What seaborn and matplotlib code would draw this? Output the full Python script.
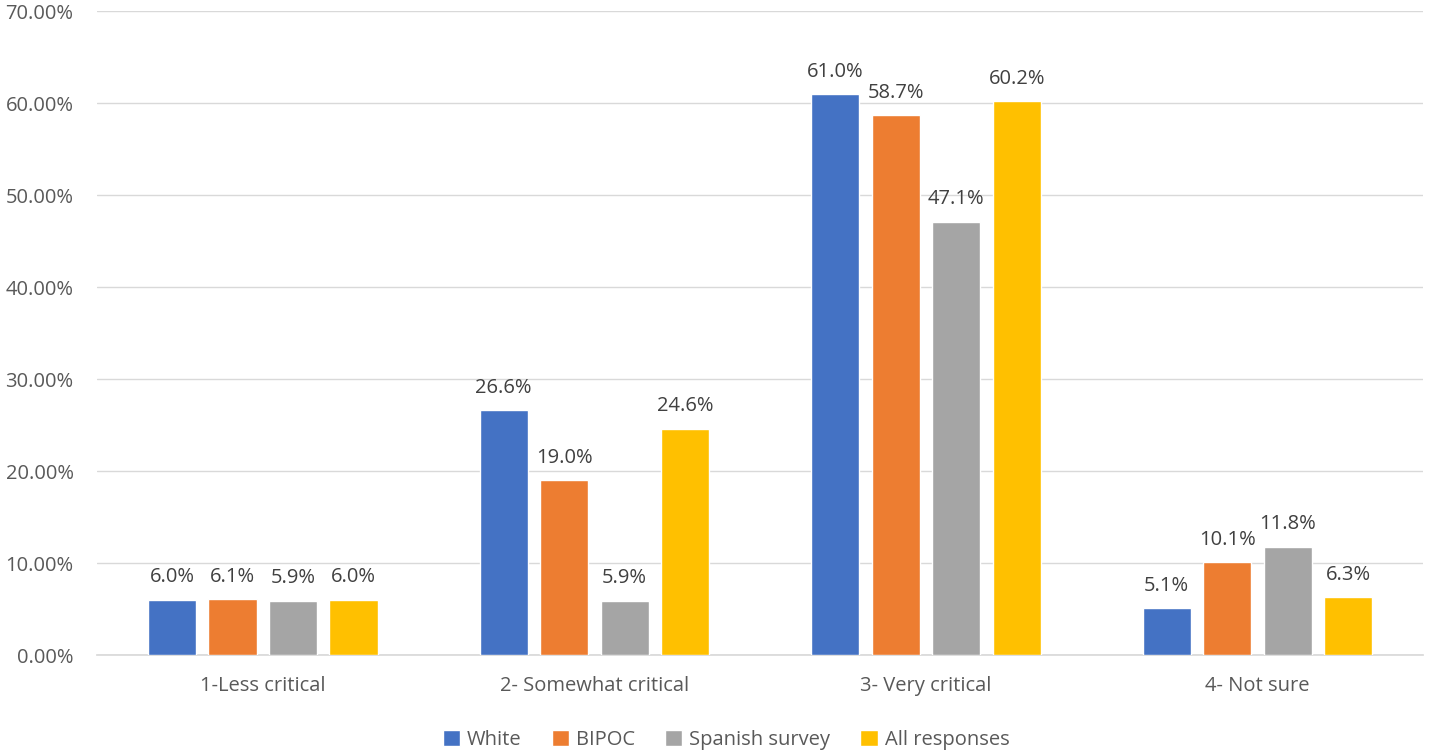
import matplotlib
matplotlib.use("Agg")
import matplotlib.pyplot as plt
import seaborn as sns
import pandas as pd
from matplotlib.ticker import PercentFormatter

categories = ["1-Less critical", "2- Somewhat critical", "3- Very critical", "4- Not sure"]
series = ["White", "BIPOC", "Spanish survey", "All responses"]
white = [6.0, 26.6, 61.0, 5.1]
bipoc = [6.1, 19.0, 58.7, 10.1]
spanish = [5.9, 5.9, 47.1, 11.8]
all_resp = [6.0, 24.6, 60.2, 6.3]
colors = ["#4472C4", "#ED7D31", "#A5A5A5", "#FFC000"]

rows = []
for s, vals in zip(series, [white, bipoc, spanish, all_resp]):
    for c, v in zip(categories, vals):
        rows.append({"cat": c, "series": s, "val": v})
df = pd.DataFrame(rows)

sns.set_theme(style="white")
plt.rcParams['font.family'] = ['Open Sans', 'DejaVu Sans']

fig = plt.figure(figsize=(14.29, 7.53), dpi=100)
ax = fig.add_axes([0.068, 0.130, 0.928, 0.855])
sns.barplot(data=df, x="cat", y="val", hue="series", order=categories,
            hue_order=series, palette=colors, width=0.73, gap=0.2,
            saturation=1, ax=ax, legend=True, zorder=3)

for cont in ax.containers:
    ax.bar_label(cont, labels=[f"{v:.1f}%" for v in cont.datavalues],
                 padding=9, fontsize=14.5, color="#404040")

ax.set_ylim(0, 70)
ax.set_yticks(range(0, 71, 10))
ax.yaxis.set_major_formatter(PercentFormatter(decimals=2))
ax.grid(axis="y", color="#D9D9D9", linewidth=1, zorder=0)
ax.set_axisbelow(True)
for sp in ["top", "right", "left"]:
    ax.spines[sp].set_visible(False)
ax.spines["bottom"].set_color("#D9D9D9")
ax.set_xlabel("")
ax.set_ylabel("")
ax.tick_params(axis="y", labelsize=14.5, colors="#595959", length=0, pad=17)
ax.tick_params(axis="x", labelsize=14.5, colors="#595959", length=0, pad=15)
ax.set_xlim(-0.5, 3.5)

handles, labels = ax.get_legend_handles_labels()
ax.get_legend().remove()
fig.legend(handles, labels, loc="center", bbox_to_anchor=(0.508, 0.017),
           ncol=4, frameon=False, fontsize=14.5, handlelength=0.85, handleheight=0.85,
           handletextpad=0.35, columnspacing=1.5, labelcolor="#595959")

fig.savefig("out.png", dpi=100)
